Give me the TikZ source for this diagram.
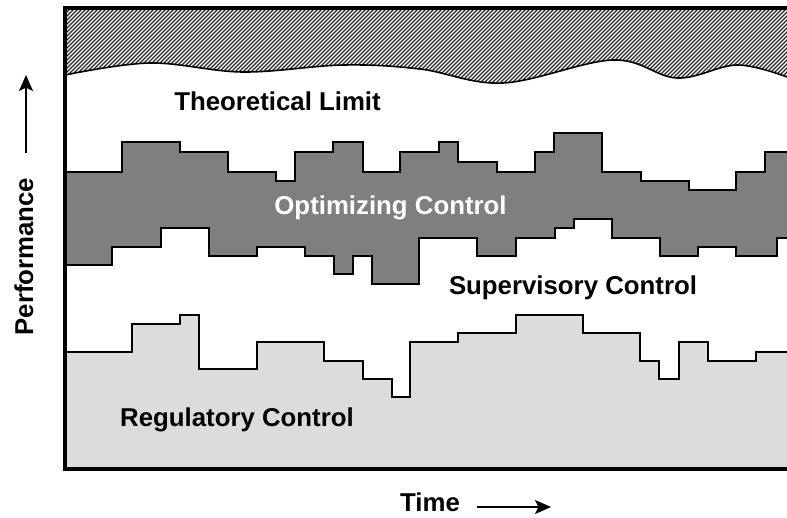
\documentclass[tikz,border=0pt]{standalone}
\usepackage{fontspec}
\setmainfont{Liberation Sans}
\usetikzlibrary{arrows.meta}
\definecolor{optgray}{HTML}{7F7F7F}
\definecolor{reggray}{HTML}{DCDCDC}
% step profiles (x to the right, y downwards, 1 unit = 1pt)
\def\upperprofile{(65,172) -| (122,142) -| (180,152) -| (228,172) -| (276,181) -| (295,152) -| (333,142) -| (363,172) -| (400,152) -| (439,142) -| (458,162) -| (497,172) -| (535,152) -| (554,133) -| (602,172) -| (641,181) -| (689,190) -| (736,172) -| (765,152) -- (787,152)}
\def\lowerprofile{(65,265) -| (112,247) -| (161,228) -| (209,256) -| (257,247) -| (305,256) -| (334,274) -| (353,256) -| (372,284) -| (419,238) -| (477,256) -| (516,238) -| (555,228) -| (574,219) -| (612,238) -| (660,256) -| (698,247) -| (736,256) -| (777,238) -- (787,238)}
\def\regprofile{(65,352) -| (132,324) -| (180,315) -| (199,369) -| (257,342) -| (324,361) -| (363,379) -| (392,397) -| (410,342) -| (458,333) -| (516,315) -| (583,333) -| (640,361) -| (659,379) -| (679,342) -| (708,361) -| (756,352) -- (787,352)}
\tikzset{
  profile/.style={line width=1.6pt, line join=miter},
  label/.style={font=\fontsize{25.8}{30}\selectfont\bfseries, inner sep=0pt, anchor=base},
  axisarrow/.style={line width=1.5pt, -{Stealth[length=16pt,width=14pt,inset=3.5pt]}},
  hatchline/.style={line width=1.3pt, black!85},
  frame/.style={line width=4pt}
}
\begin{document}
\begin{tikzpicture}[x=1pt, y=-1pt]
\useasboundingbox (0,0) rectangle (787,517);
% nested bands, filled from the top band down
\fill[optgray] \upperprofile -- (787,468) -- (65,468) -- cycle;
\fill[white] \lowerprofile -- (787,468) -- (65,468) -- cycle;
\fill[reggray] \regprofile -- (787,468) -- (65,468) -- cycle;
% hatched region above the theoretical limit
\begin{scope}
  \clip (65,7) -- plot[smooth,tension=0.6] coordinates {(65,75) (150,63) (243,72) (343,65) (420,69) (503,83) (613,60) (677,78) (737,65) (787,77)} -- (787,7) -- cycle;
  \foreach \i in {-100,-96,...,800} \draw[hatchline] (\i,95) -- (\i+95,0);
\end{scope}
\draw[profile] plot[smooth,tension=0.6] coordinates {(65,75) (150,63) (243,72) (343,65) (420,69) (503,83) (613,60) (677,78) (737,65) (787,77)};
\draw[profile] \upperprofile;
\draw[profile] \lowerprofile;
\draw[profile] \regprofile;
% frame
\draw[frame] (787,7.5) -- (65,7.5) -- (65,468.5) -- (787,468.5);
% labels
\node[label] (limit) at (277.5,110) {Theoretical Limit};
\node[label, text=white] (optimizing) at (390.5,214) {Optimizing Control};
\node[label] (supervisory) at (573,294) {Supervisory Control};
\node[label] (regulatory) at (237,426.5) {Regulatory Control};
\node[label] (time) at (430,511.5) {Time};
\node[label, rotate=90] (perf) at (33,256.5) {Performance};
% axis arrows
\coordinate (perftail) at (26,153);
\coordinate (perfhead) at (26,75);
\coordinate (timetail) at (477,507);
\coordinate (timehead) at (551,507);
\draw[axisarrow] (perftail) -- (perfhead);
\draw[axisarrow] (timetail) -- (timehead);
\end{tikzpicture}
\end{document}
